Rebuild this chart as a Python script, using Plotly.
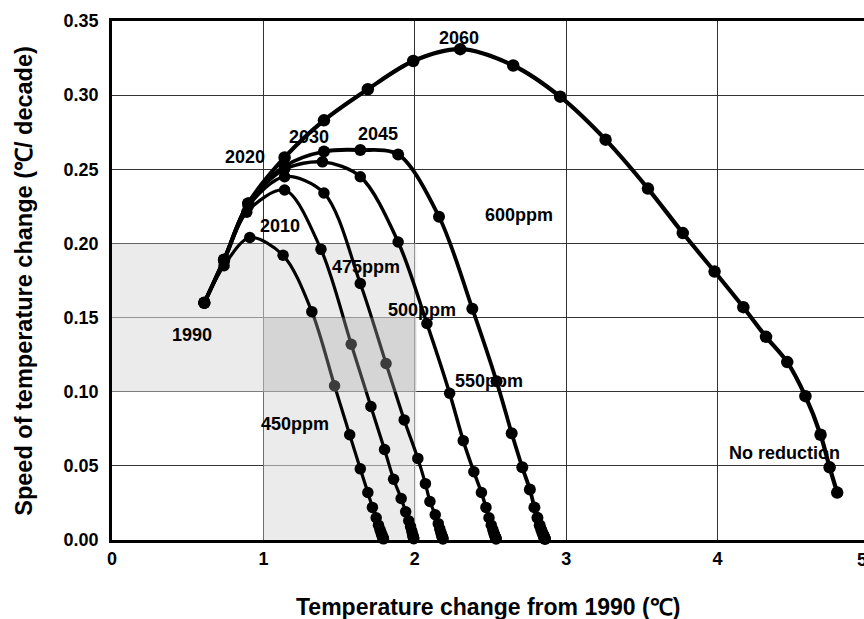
import plotly.graph_objects as go

# ---- data ----
nr_x = [0.61, 0.74, 0.90, 1.14, 1.40, 1.69, 1.99, 2.30, 2.65, 2.96, 3.26, 3.54, 3.77, 3.98, 4.17, 4.32, 4.46, 4.58, 4.68, 4.74, 4.79]
nr_y = [0.160, 0.189, 0.227, 0.258, 0.283, 0.304, 0.323, 0.331, 0.320, 0.299, 0.270, 0.237, 0.207, 0.181, 0.157, 0.137, 0.120, 0.097, 0.071, 0.049, 0.032]

p600_x = [0.61, 0.74, 0.90, 1.14, 1.40, 1.64, 1.89, 2.16, 2.38, 2.54, 2.64, 2.71, 2.76, 2.79, 2.81, 2.825, 2.835, 2.843, 2.849, 2.853, 2.856, 2.858, 2.86]
p600_y = [0.160, 0.189, 0.227, 0.252, 0.262, 0.263, 0.260, 0.218, 0.156, 0.107, 0.072, 0.049, 0.034, 0.022, 0.015, 0.010, 0.007, 0.0048, 0.0033, 0.0023, 0.0016, 0.0011, 0.0007]

p550_x = [0.61, 0.74, 0.90, 1.14, 1.39, 1.64, 1.89, 2.08, 2.23, 2.32, 2.39, 2.44, 2.47, 2.49, 2.505, 2.515, 2.522, 2.527, 2.531, 2.534, 2.536, 2.537]
p550_y = [0.160, 0.189, 0.227, 0.250, 0.255, 0.245, 0.201, 0.146, 0.099, 0.067, 0.046, 0.032, 0.022, 0.015, 0.010, 0.007, 0.0048, 0.0033, 0.0023, 0.0016, 0.0011, 0.0007]

p500_x = [0.61, 0.74, 0.90, 1.14, 1.40, 1.64, 1.81, 1.93, 2.02, 2.07, 2.10, 2.135, 2.155, 2.165, 2.172, 2.177, 2.18, 2.183, 2.185, 2.186]
p500_y = [0.160, 0.189, 0.225, 0.245, 0.234, 0.173, 0.119, 0.081, 0.055, 0.038, 0.026, 0.017, 0.011, 0.0075, 0.005, 0.0035, 0.0024, 0.0016, 0.0011, 0.0007]

p475_x = [0.61, 0.74, 0.89, 1.14, 1.38, 1.58, 1.71, 1.80, 1.86, 1.91, 1.94, 1.96, 1.972, 1.98, 1.985, 1.988, 1.99, 1.992, 1.993]
p475_y = [0.160, 0.188, 0.221, 0.236, 0.196, 0.132, 0.090, 0.061, 0.041, 0.028, 0.019, 0.013, 0.009, 0.006, 0.004, 0.0028, 0.0019, 0.0013, 0.0009]

p450_x = [0.61, 0.74, 0.91, 1.13, 1.32, 1.47, 1.57, 1.64, 1.69, 1.72, 1.745, 1.76, 1.77, 1.777, 1.782, 1.786, 1.789, 1.791, 1.793]
p450_y = [0.160, 0.185, 0.204, 0.192, 0.154, 0.104, 0.071, 0.048, 0.032, 0.022, 0.015, 0.010, 0.007, 0.005, 0.0035, 0.0025, 0.0017, 0.0012, 0.0008]

# text labels placed in the plot
label_text = ["2060", "2045", "2030", "2020", "2010", "1990", "450ppm", "475ppm", "500ppm", "550ppm", "600ppm", "No reduction"]
label_x = [2.29, 1.76, 1.30, 0.88, 1.11, 0.53, 1.21, 1.68, 2.05, 2.49, 2.69, 4.44]
label_y = [0.3385, 0.274, 0.272, 0.258, 0.212, 0.138, 0.078, 0.184, 0.155, 0.107, 0.219, 0.059]

x_ticks = [0, 1, 2, 3, 4]
y_ticks = [0.00, 0.05, 0.10, 0.15, 0.20, 0.25, 0.30, 0.35]

FONT = "Liberation Sans"
XMAX = 4.967

fig = go.Figure()

series = [
    (p450_x, p450_y, 3.2, 11.5),
    (p475_x, p475_y, 3.2, 11.5),
    (p500_x, p500_y, 3.2, 11.5),
    (p550_x, p550_y, 3.5, 11.5),
    (p600_x, p600_y, 3.8, 12),
    (nr_x, nr_y, 4.2, 12.5),
]
for xs, ys, lw, ms in series:
    fig.add_trace(go.Scatter(
        x=xs, y=ys, mode="lines+markers",
        line=dict(color="black", width=lw, shape="spline", smoothing=0.9),
        marker=dict(color="black", size=ms),
        showlegend=False, hoverinfo="skip", cliponaxis=False,
    ))

# shaded regions
light = "rgb(221,221,221)"
fig.add_shape(type="rect", xref="x", yref="y", x0=0, x1=2.01, y0=0.10, y1=0.20,
              fillcolor=light, opacity=0.58, line_width=0, layer="between")
fig.add_shape(type="rect", xref="x", yref="y", x0=1, x1=2.01, y0=0.0, y1=0.10,
              fillcolor=light, opacity=0.58, line_width=0, layer="between")
fig.add_shape(type="rect", xref="x", yref="y", x0=1, x1=2.01, y0=0.10, y1=0.15,
              fillcolor="rgb(171,171,171)", opacity=0.35, line_width=0, layer="above")

for t, x, y in zip(label_text, label_x, label_y):
    fig.add_annotation(x=x, y=y, xref="x", yref="y", text=t, showarrow=False,
                       font=dict(family=FONT, size=18, color="black", weight="bold"),
                       xanchor="center", yanchor="middle")

# axis titles and the cut-off "5" tick label
fig.add_annotation(x=0.5, y=-0.129, xref="paper", yref="paper",
                   text="Temperature change from 1990 (℃)", showarrow=False,
                   font=dict(family=FONT, size=23, color="black", weight="bold"),
                   xanchor="center", yanchor="middle")
fig.add_annotation(x=-0.118, y=0.5, xref="paper", yref="paper", textangle=-90,
                   text="Speed of temperature change (℃/ decade)", showarrow=False,
                   font=dict(family=FONT, size=23.5, color="black", weight="bold"),
                   xanchor="center", yanchor="middle")
fig.add_annotation(x=0.9973, y=-0.038, xref="paper", yref="paper",
                   text="5", showarrow=False,
                   font=dict(family=FONT, size=18, color="black", weight="bold"),
                   xanchor="center", yanchor="middle")

fig.update_xaxes(range=[0, XMAX], tickvals=x_ticks, ticktext=[str(v) for v in x_ticks],
                 showgrid=True, gridcolor="#333333", gridwidth=1.3,
                 showline=True, linecolor="black", linewidth=2.5, mirror=True,
                 ticks="", ticklabelstandoff=1, zeroline=False,
                 tickfont=dict(family=FONT, size=18, color="black", weight="bold"))
fig.update_yaxes(range=[0, 0.35], tickvals=y_ticks, ticktext=[f"{v:.2f}" for v in y_ticks],
                 showgrid=True, gridcolor="#333333", gridwidth=1.3,
                 showline=True, linecolor="black", linewidth=2.5, mirror=False,
                 ticks="", ticklabelstandoff=7, zeroline=False,
                 tickfont=dict(family=FONT, size=18, color="black", weight="bold"))

fig.update_layout(width=864, height=619, margin=dict(l=112, r=0, t=21, b=79),
                  plot_bgcolor="white", paper_bgcolor="white",
                  font=dict(family=FONT, color="black"))

# remove the default page margin so the figure fills the window exactly
fig.write_html("out.html", config={"displayModeBar": False},
               post_script="document.body.style.margin='0';document.body.style.overflow='hidden';")
